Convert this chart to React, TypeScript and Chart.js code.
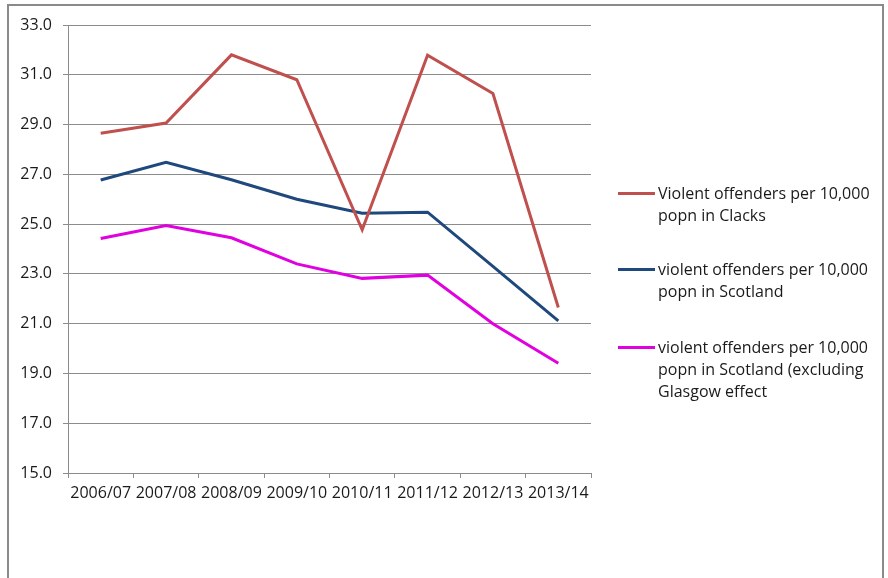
import React, { useEffect, useRef } from "react";
import { Chart, registerables } from "chart.js";

Chart.register(...registerables);

const years = ["2006/07", "2007/08", "2008/09", "2009/10", "2010/11", "2011/12", "2012/13", "2013/14"];
const clacks = [28.65, 29.06, 31.8, 30.8, 24.77, 31.79, 30.25, 21.65];
const scotland = [26.77, 27.48, 26.78, 26.0, 25.44, 25.48, 23.3, 21.11];
const scotlandExGlasgow = [24.42, 24.94, 24.45, 23.4, 22.82, 22.95, 21.0, 19.41];

const seriesNames = [
  ["Violent offenders per 10,000", "popn in Clacks"],
  ["violent offenders per 10,000", "popn in Scotland"],
  ["violent offenders per 10,000", "popn in Scotland (excluding", "Glasgow effect"],
];
const seriesColors = ["#C0504D", "#1F497D", "#E000E0"];
const seriesData = [clacks, scotland, scotlandExGlasgow];

const FONT = "'Open Sans', 'Noto Sans', sans-serif";
const GRID = "#8C8C8C";
const TEXT = "#1A1A1A";

export default function App() {
  const canvasRef = useRef<HTMLCanvasElement | null>(null);

  useEffect(() => {
    const canvas = canvasRef.current;
    if (!canvas) return;
    const chart = new Chart(canvas, {
      type: "line",
      data: {
        labels: years,
        datasets: seriesData.map((d, i) => ({
          label: seriesNames[i].join(" "),
          data: d,
          borderColor: seriesColors[i],
          backgroundColor: seriesColors[i],
          borderWidth: 3,
          pointRadius: 0,
          tension: 0,
          fill: false,
        })),
      },
      options: {
        responsive: false,
        animation: false,
        maintainAspectRatio: false,
        layout: { padding: { left: 0, top: 25, right: 297, bottom: 0 } },
        plugins: { legend: { display: false }, tooltip: { enabled: false } },
        scales: {
          x: {
            offset: true,
            grid: {
              offset: true,
              drawOnChartArea: false,
              drawTicks: true,
              tickLength: 5,
              color: GRID,
            },
            border: { color: GRID, width: 1 },
            ticks: {
              color: TEXT,
              font: { family: FONT, size: 16 },
              padding: 6,
              maxRotation: 0,
              autoSkip: false,
            },
            afterFit: (scale: any) => {
              scale.height = 105;
            },
          },
          y: {
            min: 15,
            max: 33,
            grid: { color: GRID, tickLength: 5, lineWidth: 1 },
            border: { color: GRID, width: 1 },
            ticks: {
              stepSize: 2,
              color: TEXT,
              font: { family: FONT, size: 16 },
              padding: 11,
              callback: (v: any) => Number(v).toFixed(1),
            },
            afterFit: (scale: any) => {
              scale.width = 68;
            },
          },
        },
      },
    });
    return () => chart.destroy();
  }, []);

  const legendLineY = [193, 269, 347];

  return (
    <div style={{ position: "fixed", left: 0, top: 0, width: 888, height: 578, background: "#fff", overflow: "hidden" }}>
      <div
        style={{
          position: "absolute",
          left: 7,
          top: 4,
          width: 877,
          height: 600,
          border: "2px solid #8A8A8A",
          boxSizing: "border-box",
        }}
      />
      <canvas ref={canvasRef} width={888} height={578} style={{ position: "absolute", left: 0, top: 0 }} />
      {seriesNames.map((lines, i) => (
        <div key={i}>
          <div
            style={{
              position: "absolute",
              left: 618,
              top: legendLineY[i] - 1.5,
              width: 37,
              height: 3,
              background: seriesColors[i],
            }}
          />
          <div
            style={{
              position: "absolute",
              left: 658,
              top: legendLineY[i] - 11.5,
              fontFamily: FONT,
              fontSize: 16,
              lineHeight: "22.3px",
              color: TEXT,
              whiteSpace: "nowrap",
            }}
          >
            {lines.map((t, j) => (
              <div key={j}>{t}</div>
            ))}
          </div>
        </div>
      ))}
    </div>
  );
}
